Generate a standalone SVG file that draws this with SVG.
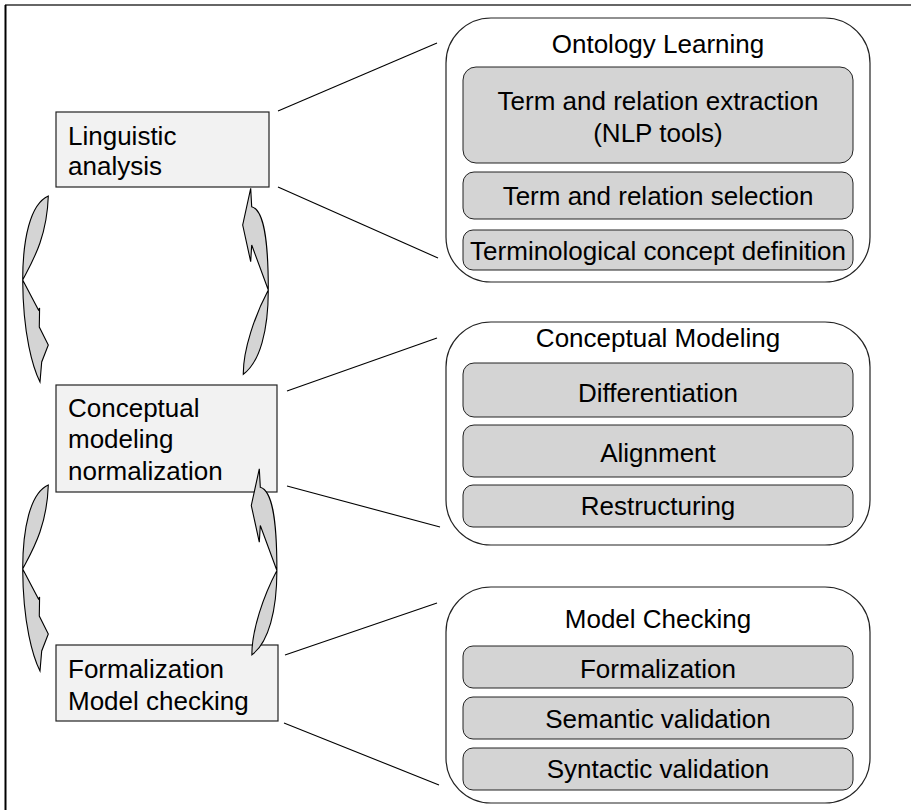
<svg xmlns="http://www.w3.org/2000/svg" width="911" height="810" viewBox="0 0 911 810">
  <style>
    text { font-family: "Liberation Sans", Arial, sans-serif; font-size: 26px; fill: #000; }
    .mid { text-anchor: middle; }
    .stage { fill: #f2f2f2; stroke: #222; stroke-width: 1.2; }
    .group { fill: #fff; stroke: #222; stroke-width: 1.2; }
    .task { fill: #d4d4d4; stroke: #222; stroke-width: 1; }
    .link { stroke: #000; stroke-width: 1.1; fill: none; }
    .cycle { fill: #d4d4d4; stroke: #000; stroke-width: 1.1; stroke-linejoin: miter; }
  </style>
  <defs>
    <!-- curved arrow pointing down (left side of the cycle) -->
    <path id="arrowDown" d="M48.3,196 C30,204 22.7,240 22.7,280 C32,262 47,238 48.3,196 Z
             M22.7,280 L38.5,310 L39.6,308 L39.3,327 L48.3,345 L41.7,362 L40,382
             C33,368 23,335 22.7,280 Z"/>
    <!-- curved arrow pointing up (right side of the cycle) -->
    <path id="arrowUp" d="M250.7,188.3 L251.7,206.7 C264,210 268.3,240 268.3,290
             L251.7,245 L250.7,261.7 L242.7,225 Z
             M268.3,290 C268.3,330 260,362 243.3,374.3 C243,350 255,315 268.3,290 Z"/>
  </defs>

  <!-- frame -->
  <line x1="5" y1="5" x2="911" y2="5" stroke="#666" stroke-width="2"/>
  <line x1="5.5" y1="5" x2="5.5" y2="810" stroke="#000" stroke-width="2"/>

  <!-- process stages -->
  <g id="stage-linguistic">
    <rect class="stage" x="56" y="112" width="213" height="75"/>
    <text x="68" y="145">Linguistic</text>
    <text x="68" y="175">analysis</text>
  </g>
  <g id="stage-conceptual">
    <rect class="stage" x="56" y="385" width="221" height="107"/>
    <text x="68" y="417">Conceptual</text>
    <text x="68" y="448">modeling</text>
    <text x="68" y="480">normalization</text>
  </g>
  <g id="stage-formal">
    <rect class="stage" x="56" y="645" width="222" height="76"/>
    <text x="68" y="678">Formalization</text>
    <text x="68" y="710">Model checking</text>
  </g>

  <!-- connectors: fan-out lines and the cycle arrows -->
  <g id="connectors">
    <line class="link" x1="278" y1="111" x2="437" y2="43"/>
    <line class="link" x1="278" y1="187" x2="438" y2="258"/>
    <line class="link" x1="287" y1="391" x2="437" y2="338"/>
    <line class="link" x1="287" y1="486" x2="440" y2="527"/>
    <line class="link" x1="285" y1="655" x2="437" y2="603"/>
    <line class="link" x1="284" y1="723" x2="439" y2="785"/>
    <use href="#arrowDown" class="cycle"/>
    <use href="#arrowUp" class="cycle"/>
    <use href="#arrowDown" class="cycle" transform="translate(0,289)"/>
    <use href="#arrowUp" class="cycle" transform="translate(8.6,280.5)"/>
  </g>

  <!-- ontology learning -->
  <g id="ontology-learning">
    <rect class="group" x="446" y="18" width="424" height="264" rx="45" ry="45"/>
    <text class="mid" x="658" y="53">Ontology Learning</text>
    <rect class="task" x="463" y="67" width="390" height="96" rx="13"/>
    <text class="mid" x="658" y="110">Term and relation extraction</text>
    <text class="mid" x="658" y="142">(NLP tools)</text>
    <rect class="task" x="463" y="172" width="390" height="47" rx="11"/>
    <text class="mid" x="658" y="205">Term and relation selection</text>
    <rect class="task" x="463" y="230" width="390" height="40" rx="10"/>
    <text class="mid" x="658" y="260">Terminological concept definition</text>
  </g>

  <!-- conceptual modeling -->
  <g id="conceptual-modeling">
    <rect class="group" x="446" y="322" width="424" height="223" rx="45" ry="45"/>
    <text class="mid" x="658" y="347">Conceptual Modeling</text>
    <rect class="task" x="463" y="363" width="390" height="54" rx="11"/>
    <text class="mid" x="658" y="402">Differentiation</text>
    <rect class="task" x="463" y="425" width="390" height="52" rx="11"/>
    <text class="mid" x="658" y="462">Alignment</text>
    <rect class="task" x="463" y="485" width="390" height="42" rx="10"/>
    <text class="mid" x="658" y="515">Restructuring</text>
  </g>

  <!-- model checking -->
  <g id="model-checking">
    <rect class="group" x="446" y="587" width="424" height="216" rx="45" ry="45"/>
    <text class="mid" x="658" y="628">Model Checking</text>
    <rect class="task" x="463" y="646" width="390" height="42" rx="10"/>
    <text class="mid" x="658" y="678">Formalization</text>
    <rect class="task" x="463" y="697" width="390" height="42" rx="10"/>
    <text class="mid" x="658" y="728">Semantic validation</text>
    <rect class="task" x="463" y="748" width="390" height="42" rx="10"/>
    <text class="mid" x="658" y="778">Syntactic validation</text>
  </g>
</svg>
